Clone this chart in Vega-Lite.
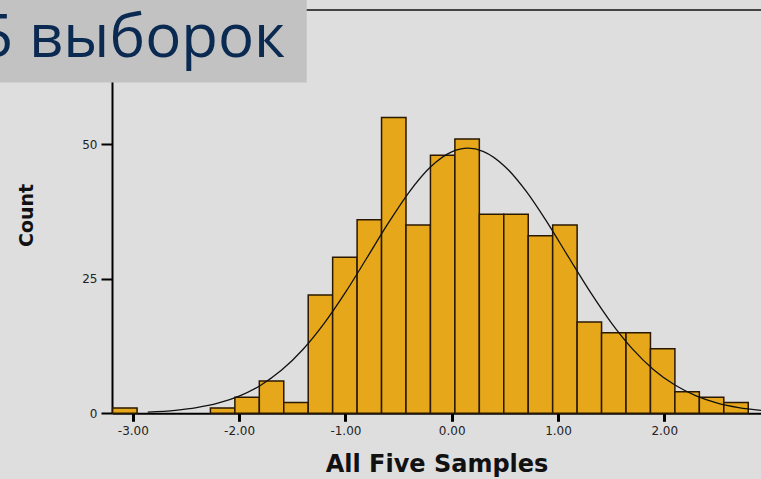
{
  "$schema": "https://vega.github.io/schema/vega-lite/v6.json",
  "width": 649,
  "height": 403.3,
  "autosize": {"type": "none"},
  "padding": {"left": 112, "top": 10, "right": 0, "bottom": 65.7},
  "background": "#dedede",
  "config": {
    "view": {"stroke": null},
    "axis": {"grid": false, "labelFont": "DejaVu Sans", "titleFont": "DejaVu Sans", "labelFlush": false}
  },
  "datasets": {
    "bins": [
      {"start": -3.19, "end": -2.96, "count": 1},
      {"start": -2.27, "end": -2.04, "count": 1},
      {"start": -2.04, "end": -1.81, "count": 3},
      {"start": -1.81, "end": -1.58, "count": 6},
      {"start": -1.58, "end": -1.35, "count": 2},
      {"start": -1.35, "end": -1.12, "count": 22},
      {"start": -1.12, "end": -0.89, "count": 29},
      {"start": -0.89, "end": -0.66, "count": 36},
      {"start": -0.66, "end": -0.43, "count": 55},
      {"start": -0.43, "end": -0.20, "count": 35},
      {"start": -0.20, "end": 0.03, "count": 48},
      {"start": 0.03, "end": 0.26, "count": 51},
      {"start": 0.26, "end": 0.49, "count": 37},
      {"start": 0.49, "end": 0.72, "count": 37},
      {"start": 0.72, "end": 0.95, "count": 33},
      {"start": 0.95, "end": 1.18, "count": 35},
      {"start": 1.18, "end": 1.41, "count": 17},
      {"start": 1.41, "end": 1.64, "count": 15},
      {"start": 1.64, "end": 1.87, "count": 15},
      {"start": 1.87, "end": 2.10, "count": 12},
      {"start": 2.10, "end": 2.33, "count": 4},
      {"start": 2.33, "end": 2.56, "count": 3},
      {"start": 2.56, "end": 2.79, "count": 2}
    ],
    "curve": [
      {"x": -2.86, "y": 0.23},
      {"x": -2.6, "y": 0.56},
      {"x": -2.4, "y": 1.05},
      {"x": -2.2, "y": 1.87},
      {"x": -2.0, "y": 3.19},
      {"x": -1.8, "y": 5.18},
      {"x": -1.6, "y": 8.03},
      {"x": -1.4, "y": 11.86},
      {"x": -1.2, "y": 16.72},
      {"x": -1.0, "y": 22.48},
      {"x": -0.8, "y": 28.83},
      {"x": -0.6, "y": 35.26},
      {"x": -0.4, "y": 41.15},
      {"x": -0.2, "y": 45.8},
      {"x": 0.0, "y": 48.62},
      {"x": 0.153, "y": 49.3},
      {"x": 0.3, "y": 48.67},
      {"x": 0.5, "y": 45.91},
      {"x": 0.7, "y": 41.31},
      {"x": 0.9, "y": 35.46},
      {"x": 1.1, "y": 29.02},
      {"x": 1.3, "y": 22.66},
      {"x": 1.5, "y": 16.88},
      {"x": 1.7, "y": 11.99},
      {"x": 1.9, "y": 8.12},
      {"x": 2.1, "y": 5.25},
      {"x": 2.3, "y": 3.24},
      {"x": 2.5, "y": 1.9},
      {"x": 2.7, "y": 1.07},
      {"x": 2.91, "y": 0.55}
    ]
  },
  "layer": [
    {
      "data": {"name": "bins"},
      "mark": {"type": "rect", "fill": "#e6a81a", "stroke": "#2a1800", "strokeWidth": 1.5},
      "encoding": {
        "x": {
          "field": "start",
          "type": "quantitative",
          "scale": {"domain": [-3.196, 2.91], "nice": false, "zero": false},
          "axis": {
            "values": [-3, -2, -1, 0, 1, 2],
            "labelExpr": "datum.value < 0 ? '-' + format(-datum.value, '.2f') : format(datum.value, '.2f')",
            "domainColor": "#000000",
            "domainWidth": 2,
            "tickColor": "#000000",
            "tickSize": 8,
            "tickWidth": 3,
            "labelFontSize": 12,
            "labelColor": "#222222",
            "labelPadding": 4,
            "title": "All Five Samples",
            "titleFontSize": 24,
            "titleFontWeight": "bold",
            "titleColor": "#111111",
            "titlePadding": 16
          }
        },
        "x2": {"field": "end"},
        "y": {
          "field": "count",
          "type": "quantitative",
          "scale": {"domain": [0, 75], "nice": false, "zero": true},
          "axis": {
            "values": [0, 25, 50],
            "domainColor": "#000000",
            "domainWidth": 2,
            "tickColor": "#000000",
            "tickSize": 11,
            "tickWidth": 2,
            "labelFontSize": 12,
            "labelColor": "#222222",
            "labelPadding": 4,
            "title": "Count",
            "titleFontSize": 19,
            "titleFontWeight": "bold",
            "titleColor": "#111111",
            "titleX": -76,
            "titleY": 205,
            "titleAlign": "center"
          }
        },
        "y2": {"datum": 0}
      }
    },
    {
      "data": {"name": "curve"},
      "mark": {"type": "line", "color": "#111111", "strokeWidth": 1.3, "interpolate": "monotone"},
      "encoding": {
        "x": {"field": "x", "type": "quantitative"},
        "y": {"field": "y", "type": "quantitative"}
      }
    },
    {
      "data": {"values": [{}]},
      "mark": {"type": "rule", "color": "#444444", "strokeWidth": 2},
      "encoding": {"y": {"datum": 75}}
    },
    {
      "data": {"values": [{}]},
      "mark": {"type": "rect", "color": "#c2c2c2"},
      "encoding": {
        "x": {"datum": -4.3},
        "x2": {"datum": -1.364},
        "y": {"datum": 61.5},
        "y2": {"datum": 80}
      }
    },
    {
      "data": {"values": [{}]},
      "mark": {"type": "text", "align": "right", "baseline": "alphabetic", "font": "Open Sans", "fontSize": 60, "color": "#0b2a52"},
      "encoding": {
        "x": {"datum": -1.568},
        "y": {"datum": 66.3},
        "text": {"value": "5 выборок"}
      }
    }
  ]
}
